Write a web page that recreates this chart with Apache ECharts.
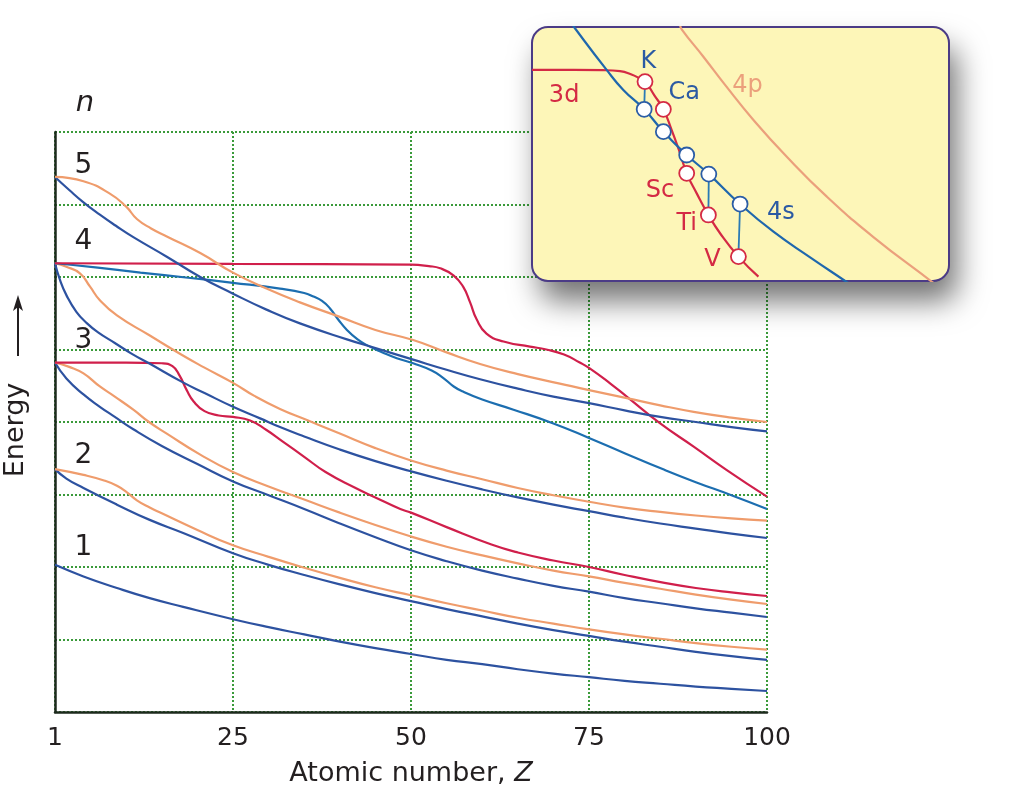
<!DOCTYPE html>
<html><head><meta charset="utf-8">
<script src="https://cdn.jsdelivr.net/npm/echarts@6/dist/echarts.min.js"></script>
<style>html,body{margin:0;padding:0;background:#fff}#c{width:1024px;height:789px}</style>
</head><body><div id="c"></div>
<script>
const FONT = 'DejaVu Sans';
const TXT = '#231f20';

// ---- axis ticks ----
const xTickValues = [0, 25, 50, 75, 100];
const xTickLabels = ['1', '25', '50', '75', '100'];

// ---- level labels (n) ----
const levelLabels = ['1', '2', '3', '4', '5'];
const levelLabelPos = [[4.0, 2.26], [4.0, 3.54], [4.0, 5.12], [4.0, 6.48], [4.0, 7.53]];
const nLabelPos = [4.2, 8.40];

// ---- main series: [Z, energy] ----
const e1s = [[0,2.03],[4,1.87],[8.7,1.71],[13.3,1.57],[18,1.45],[25,1.28],[30,1.17],[35,1.07],[40,0.97],[45,0.88],[50,0.80],[55,0.72],[60,0.66],[65,0.59],[70,0.53],[75,0.48],[80,0.43],[85,0.39],[90,0.35],[95,0.32],[100,0.29]];
const e2s = [[0,3.35],[1.6,3.22],[4,3.09],[8.7,2.86],[13.3,2.65],[18,2.47],[25,2.19],[30,2.03],[35,1.89],[40,1.76],[45,1.64],[50,1.53],[55,1.42],[60,1.32],[65,1.22],[70,1.13],[75,1.05],[80,0.97],[85,0.90],[90,0.83],[95,0.77],[100,0.72]];
const e2p = [[0,3.35],[4,3.27],[7,3.19],[8.7,3.12],[10.1,3.03],[11.5,2.92],[13.3,2.82],[15,2.74],[20,2.51],[25,2.30],[30,2.14],[35,1.99],[40,1.85],[45,1.72],[50,1.61],[55,1.50],[60,1.40],[65,1.30],[70,1.22],[75,1.14],[80,1.07],[85,1.01],[90,0.95],[95,0.90],[100,0.86]];
const e3s = [[0,4.82],[1.6,4.60],[4,4.38],[6.3,4.21],[8.4,4.07],[11,3.90],[15,3.67],[20,3.42],[25,3.18],[30,2.99],[35,2.80],[40,2.60],[45,2.41],[50,2.23],[55,2.08],[60,1.95],[65,1.84],[70,1.74],[75,1.66],[80,1.57],[85,1.50],[90,1.43],[95,1.37],[100,1.31]];
const e3p = [[0,4.82],[2,4.76],[4,4.67],[6.3,4.49],[8.4,4.35],[11,4.17],[13.2,4.0],[15.7,3.84],[20.4,3.55],[25,3.31],[30,3.11],[35,2.93],[40,2.75],[45,2.58],[50,2.42],[55,2.28],[60,2.16],[65,2.05],[70,1.95],[75,1.87],[80,1.78],[85,1.70],[90,1.62],[95,1.55],[100,1.49]];
const e3d = [[0,4.82],[10,4.82],[15,4.81],[16.5,4.77],[17.5,4.64],[18.5,4.44],[19.5,4.28],[21,4.15],[23,4.09],[25,4.07],[27.4,4.02],[29.7,3.89],[32,3.73],[35,3.52],[38,3.31],[42,3.10],[45,2.96],[48.5,2.80],[50,2.75],[55,2.55],[61.3,2.31],[65,2.20],[70,2.09],[75,2.0],[80,1.89],[85.6,1.78],[90,1.71],[95,1.65],[100,1.60]];
const e4s = [[0,6.19],[0.7,5.96],[1.6,5.75],[3,5.52],[4.5,5.36],[6,5.24],[8.4,5.09],[10.8,4.94],[13.2,4.81],[17.9,4.55],[21,4.40],[25,4.21],[28.8,4.05],[31.6,3.93],[35,3.80],[40,3.62],[45,3.46],[50,3.32],[55,3.19],[60,3.07],[65,2.96],[70,2.86],[75,2.77],[80,2.68],[85,2.60],[90,2.53],[95,2.46],[100,2.40]];
const e4p = [[0,6.19],[1.6,6.14],[3.5,6.05],[4.9,5.87],[6.3,5.68],[8.7,5.47],[13.2,5.2],[17.9,4.92],[21,4.75],[25,4.54],[28,4.36],[31.6,4.18],[35.3,4.03],[40,3.84],[45,3.64],[50,3.47],[55,3.33],[60,3.21],[65,3.09],[70,2.99],[75,2.90],[80,2.82],[85,2.76],[90,2.71],[95,2.67],[100,2.64]];
const e4d = [[0,6.19],[6,6.13],[12,6.06],[18.7,5.99],[25,5.92],[31.6,5.84],[35,5.78],[36.3,5.73],[37.5,5.67],[38.6,5.57],[39.8,5.41],[41,5.27],[42.5,5.14],[43.8,5.06],[46,4.96],[48,4.88],[50.3,4.81],[52.9,4.71],[54.5,4.61],[56,4.49],[57.3,4.42],[60,4.31],[64.4,4.17],[70,3.98],[75,3.78],[80,3.57],[85.6,3.34],[90,3.17],[95,2.99],[100,2.80]];
const e4f = [[0,6.19],[25,6.18],[50,6.17],[52.5,6.15],[54.1,6.12],[56,6.02],[57.3,5.87],[58.3,5.65],[59.2,5.42],[60.6,5.22],[63,5.11],[66.7,5.04],[69,5.0],[71.5,4.93],[73.7,4.82],[75.1,4.74],[78,4.53],[80.3,4.35],[85,3.98],[89.7,3.66],[94.3,3.34],[100,2.97]];
const e5s = [[0,7.38],[2,7.2],[4,7.03],[6.3,6.86],[8.5,6.71],[11,6.55],[15.7,6.28],[20.4,6.0],[25,5.77],[29.7,5.55],[34.4,5.36],[41,5.14],[45,5.02],[50.3,4.86],[55,4.72],[59.7,4.59],[65,4.46],[70,4.35],[75,4.26],[80,4.16],[85,4.07],[90,4.0],[95,3.93],[100,3.87]];
const e5p = [[0,7.38],[4,7.32],[7.7,7.15],[10,6.97],[11.5,6.80],[13.5,6.67],[15.7,6.56],[20.4,6.33],[25,6.06],[29.7,5.84],[34.4,5.65],[40,5.45],[45,5.27],[50.3,5.13],[55,4.96],[59.7,4.80],[65,4.66],[70.9,4.53],[75,4.44],[80.3,4.33],[85,4.23],[89.7,4.14],[95,4.06],[100,4.0]];

// ---- inset (magnified schematic, inset units 0..100) ----
const inset3d = [[0,83.1],[10,83.1],[17,83.0],[21.1,82.6],[24.0,81.2],[25.5,80.0],[27.1,78.5],[29.3,73.2],[31.5,67.6],[33.5,59.4],[35.5,50.3],[37.1,42.4],[39.5,34.5],[42.3,26.0],[45.1,18.8],[49.5,9.6],[54.3,1.7]];
const inset4s = [[9.5,101.5],[10.3,99.5],[17.9,83.1],[21.9,75.2],[26.9,67.6],[31.5,58.8],[37.1,49.6],[42.4,42.1],[49.9,30.3],[57.9,19.4],[66.7,9.3],[75.1,0],[76,-1]];
const inset4p = [[35.5,101],[35.9,99.1],[41.1,88.3],[46.3,77.2],[53.1,63.4],[61.1,48.9],[70.7,33.2],[81.8,17.4],[95.9,-0.3],[96.5,-1]];
const insetElements = ['K', 'Ca', 'Sc', 'Ti', 'V'];
const insetRed = [[27.1,78.5],[31.5,67.6],[37.1,42.4],[42.3,26.0],[49.5,9.6]];
const insetBlue = [[26.9,67.6],[31.5,58.8],[37.1,49.6],[42.4,42.1],[49.9,30.3]];
const insetLinked = [0, 3, 4];
const insetBlueLabels = [['K', 27.9, 86.3], ['Ca', 36.5, 74.2], ['4s', 59.7, 27.0]];
const insetRedLabels = [['3d', 7.7, 72.8], ['Sc', 30.7, 35.4], ['Ti', 37.1, 22.4], ['V', 43.3, 8.3]];
const insetOrangeLabels = [['4p', 51.7, 76.8]];

// ---- styling ----
const C_BLUE = '#2d52a0', C_TEAL = '#1c6eb0', C_ORANGE = '#ef9c6c', C_RED = '#d01f4b';
const C_GRID = '#3a9a3a', C_AXIS = '#1d2a1d';
const INSET = {left: 532, top: 27, width: 417, height: 254};

function curve(name, data, color, xi) {
  return {
    name, type: 'line', data, xAxisIndex: xi || 0, yAxisIndex: xi || 0,
    showSymbol: false, symbol: 'none', smooth: 0.5,
    lineStyle: {color, width: 2.2, opacity: 1}, itemStyle: {color}, z: 3, silent: true
  };
}
function textSeries(items, color, size, xi, extra) {
  return {
    type: 'scatter', xAxisIndex: xi, yAxisIndex: xi, clip: false, silent: true,
    symbolSize: 1, itemStyle: {color: 'rgba(0,0,0,0)', opacity: 1}, z: 20,
    data: items.map(d => ({value: [d[1], d[2]], name: d[0]})),
    label: Object.assign({show: true, position: 'inside', formatter: p => p.name, opacity: 1,
      color, fontSize: size, fontFamily: FONT, align: 'center', verticalAlign: 'middle',
      textBorderWidth: 0}, extra || {})
  };
}

const series = [
  curve('1s', e1s, C_BLUE),
  curve('2s', e2s, C_BLUE), curve('2p', e2p, C_ORANGE),
  curve('3s', e3s, C_BLUE), curve('3p', e3p, C_ORANGE), curve('3d', e3d, C_RED),
  curve('4s', e4s, C_BLUE), curve('4p', e4p, C_ORANGE), curve('4d', e4d, C_TEAL), curve('4f', e4f, C_RED),
  curve('5s', e5s, C_BLUE), curve('5p', e5p, C_ORANGE),
  textSeries(levelLabels.map((t, i) => [t, levelLabelPos[i][0], levelLabelPos[i][1]]), TXT, 28, 0),
  textSeries([['n', nLabelPos[0], nLabelPos[1]]], TXT, 29, 0, {fontStyle: 'italic'}),
  // inset
  Object.assign(curve('inset 4p', inset4p, '#eba07c', 1), {z: 10}),
  Object.assign(curve('inset 3d', inset3d, '#d42a44', 1), {z: 10}),
  Object.assign(curve('inset 4s', inset4s, '#1f67ad', 1), {z: 10}),
];
insetLinked.forEach(i => {
  series.push({type: 'line', xAxisIndex: 1, yAxisIndex: 1, silent: true, symbol: 'none',
    data: [insetRed[i], insetBlue[i]], lineStyle: {color: '#2a7ab5', width: 1.8}, z: 11});
});
series.push({type: 'scatter', xAxisIndex: 1, yAxisIndex: 1, silent: true, symbolSize: 15, z: 12,
  data: insetRed, itemStyle: {color: '#ffffff', borderColor: '#d42a44', borderWidth: 1.8, opacity: 1}});
series.push({type: 'scatter', xAxisIndex: 1, yAxisIndex: 1, silent: true, symbolSize: 15, z: 12,
  data: insetBlue, itemStyle: {color: '#ffffff', borderColor: '#2b5da6', borderWidth: 1.8, opacity: 1}});
series.push(textSeries(insetBlueLabels, '#2b5aa3', 24, 1));
series.push(textSeries(insetRedLabels, '#d42a44', 24, 1));
series.push(textSeries(insetOrangeLabels, '#eba07c', 24, 1));

const gridLine = {show: true, lineStyle: {color: C_GRID, width: 2, type: [2, 2]}};

const option = {
  animation: false,
  backgroundColor: '#ffffff',
  grid: [
    {left: 55, top: 132, width: 712, height: 580, containLabel: false, outerBoundsMode: 'none'},
    {left: INSET.left, top: INSET.top, width: INSET.width, height: INSET.height, containLabel: false, outerBoundsMode: 'none'}
  ],
  xAxis: [
    {type: 'value', gridIndex: 0, min: 0, max: 100, interval: 25,
     axisLine: {show: true, onZero: false, lineStyle: {color: C_AXIS, width: 2.5}},
     axisTick: {show: false},
     axisLabel: {fontSize: 25, color: TXT, fontFamily: FONT, margin: 14,
       formatter: v => xTickLabels[xTickValues.indexOf(v)] ?? String(v)},
     splitLine: gridLine,
     name: 'Atomic number, {i|Z}', nameLocation: 'middle', nameGap: 48,
     nameTextStyle: {fontSize: 27, color: TXT, fontFamily: FONT,
       rich: {i: {fontSize: 27, color: TXT, fontFamily: FONT, fontStyle: 'italic'}}}},
    {type: 'value', gridIndex: 1, min: 0, max: 100, show: false}
  ],
  yAxis: [
    {type: 'value', gridIndex: 0, min: 0, max: 8, interval: 1,
     axisLine: {show: true, onZero: false, lineStyle: {color: C_AXIS, width: 2.5}},
     axisTick: {show: false}, axisLabel: {show: false},
     splitLine: gridLine},
    {type: 'value', gridIndex: 1, min: 0, max: 100, show: false}
  ],
  graphic: {elements: [
    {type: 'rect', z: 1, shape: {x: INSET.left, y: INSET.top, width: INSET.width, height: INSET.height, r: 16},
     style: {fill: '#fdf6b8',
       shadowBlur: 30, shadowOffsetX: 8, shadowOffsetY: 20, shadowColor: 'rgba(0,0,0,0.55)'}},
    {type: 'rect', z: 2, shape: {x: INSET.left, y: INSET.top, width: INSET.width, height: INSET.height, r: 16},
     style: {fill: null, stroke: '#4b3b86', lineWidth: 2}},
    {type: 'text', z: 5, x: 16, y: 430, rotation: Math.PI / 2,
     style: {text: 'Energy', fontSize: 27, fontFamily: FONT, fill: TXT, align: 'center', verticalAlign: 'middle'}},
    {type: 'line', z: 5, shape: {x1: 18, y1: 356, x2: 18, y2: 306}, style: {stroke: TXT, lineWidth: 2}},
    {type: 'polygon', z: 5, shape: {points: [[18, 295], [13, 311], [18, 307], [23, 311]]}, style: {fill: TXT}}
  ]},
  series
};

const chart = echarts.init(document.getElementById('c'), null, {renderer: 'canvas'});
chart.setOption(option);
</script>
</body></html>
